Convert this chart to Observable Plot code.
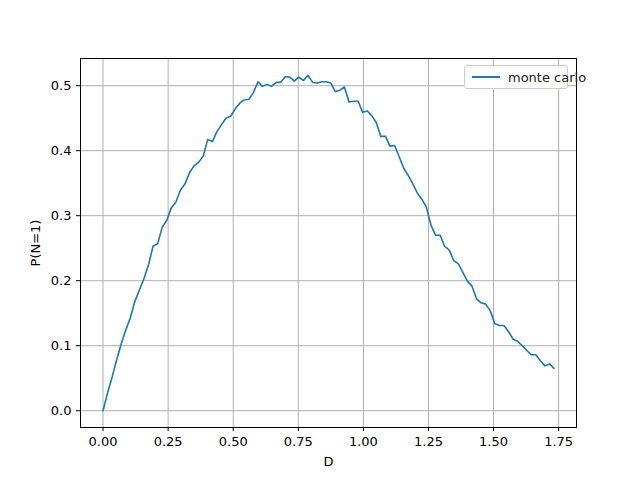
<!DOCTYPE html>
<html><head><meta charset="utf-8">
<script src="https://cdn.jsdelivr.net/npm/d3@7"></script>
<script src="https://cdn.jsdelivr.net/npm/@observablehq/plot@0.6"></script>
<style>
body{margin:0;background:#fff;font-family:"DejaVu Sans",sans-serif}
#chart{position:relative;width:640px;height:480px}
.legend{position:absolute;left:464px;top:65px;width:104px;height:24px;border:1px solid #ccc;border-radius:3px;background:#fff;font-size:13px;display:flex;align-items:center;color:#222;white-space:nowrap;box-sizing:border-box}
.legend span.sw{display:inline-block;flex:none;width:28px;height:2px;background:#1f77b4;margin:0 8px 0 7px}
</style></head><body>
<div id="chart"><div class="legend"><span class="sw"></span>monte carlo</div></div>
<script>
const dVals = [0,0.017,0.035,0.052,0.070,0.087,0.105,0.122,0.140,0.157,0.175,0.192,0.210,0.227,0.245,0.262,0.280,0.297,0.315,0.332,0.350,0.367,0.385,0.402,0.420,0.437,0.455,0.472,0.490,0.507,0.525,0.542,0.560,0.577,0.595,0.612,0.630,0.647,0.665,0.682,0.700,0.717,0.735,0.752,0.770,0.787,0.805,0.822,0.840,0.857,0.875,0.892,0.910,0.927,0.945,0.962,0.980,0.997,1.015,1.032,1.050,1.067,1.085,1.102,1.120,1.137,1.155,1.172,1.190,1.207,1.225,1.242,1.260,1.277,1.295,1.312,1.330,1.347,1.365,1.382,1.400,1.417,1.435,1.452,1.470,1.487,1.505,1.522,1.540,1.557,1.575,1.592,1.610,1.627,1.645,1.662,1.680,1.697,1.715,1.732]
const pVals = [0,0.027,0.052,0.078,0.103,0.124,0.143,0.168,0.186,0.203,0.225,0.253,0.257,0.282,0.293,0.312,0.321,0.339,0.349,0.366,0.377,0.382,0.392,0.417,0.414,0.429,0.440,0.450,0.453,0.464,0.473,0.478,0.479,0.489,0.506,0.499,0.502,0.499,0.505,0.505,0.514,0.513,0.507,0.513,0.508,0.516,0.505,0.504,0.506,0.506,0.504,0.491,0.493,0.498,0.475,0.476,0.476,0.459,0.461,0.454,0.443,0.422,0.422,0.407,0.408,0.391,0.373,0.362,0.349,0.335,0.325,0.313,0.285,0.270,0.270,0.253,0.247,0.231,0.226,0.213,0.199,0.192,0.172,0.166,0.164,0.154,0.134,0.131,0.131,0.122,0.110,0.107,0.100,0.093,0.086,0.086,0.077,0.069,0.072,0.065]
const xTicks = [0,0.25,0.5,0.75,1,1.25,1.5,1.75]
const yTicks = [0,0.1,0.2,0.3,0.4,0.5]
const data = dVals.map((d, i) => ({d, p: pVals[i]}))

const chart = Plot.plot({
  width: 640, height: 480,
  marginLeft: 80, marginRight: 64, marginTop: 58, marginBottom: 53,
  style: {fontFamily: '"DejaVu Sans", sans-serif', fontSize: '13px', color: '#000', background: 'white'},
  x: {domain: [-0.0866, 1.8186], ticks: xTicks, tickFormat: d3.format('.2f'), label: 'D', labelAnchor: 'center', labelArrow: 'none', labelOffset: 38, tickSize: 4},
  y: {domain: [-0.0258, 0.5418], ticks: yTicks, tickFormat: d3.format('.1f'), label: 'P(N=1)', labelAnchor: 'center', labelArrow: 'none', labelOffset: 50, tickSize: 4},
  marks: [
    Plot.gridX(xTicks, {stroke: '#b0b0b0', strokeOpacity: 1}),
    Plot.gridY(yTicks, {stroke: '#b0b0b0', strokeOpacity: 1}),
    Plot.frame({stroke: '#000'}),
    Plot.line(data, {x: 'd', y: 'p', stroke: '#1f77b4', strokeWidth: 1.6})
  ]
})
document.getElementById('chart').prepend(chart)
</script>
</body></html>
